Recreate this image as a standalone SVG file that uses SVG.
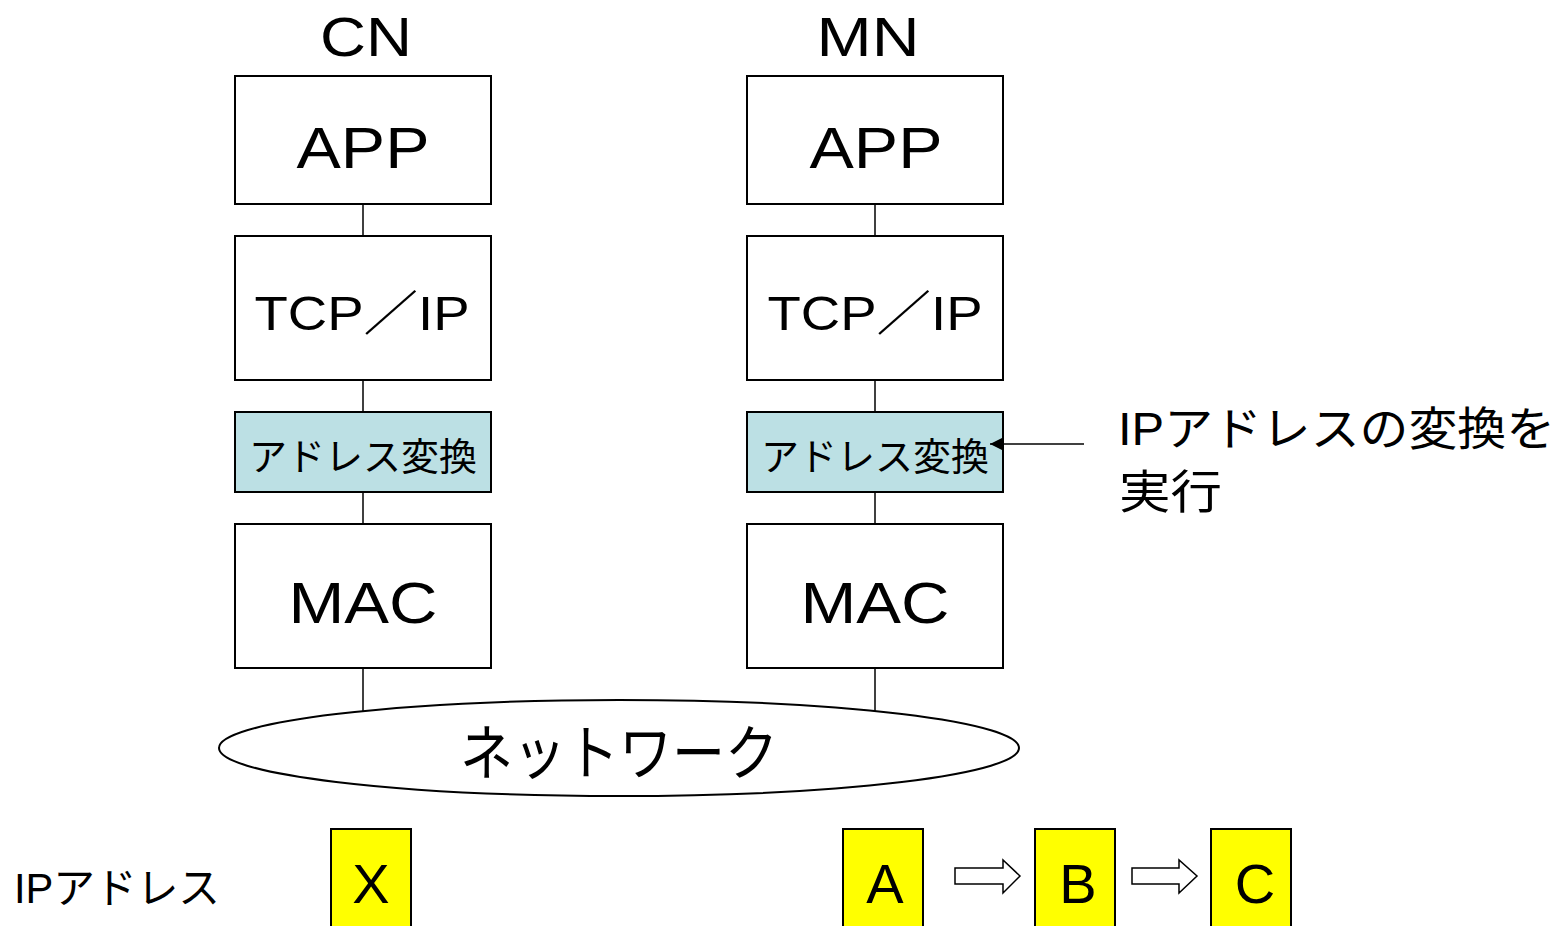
<svg xmlns="http://www.w3.org/2000/svg" width="1566" height="926" viewBox="0 0 1566 926">
<defs>
<style>
text{font-family:"Liberation Sans","Noto Sans CJK JP",sans-serif;fill:#000;text-anchor:middle}
.box{fill:#fff;stroke:#000;stroke-width:2}
.conv{fill:#BCE0E4;stroke:#000;stroke-width:2}
.ybox{fill:#FFFF00;stroke:#000;stroke-width:2}
.ln{stroke:#000;stroke-width:1.5;fill:none}
.big{font-size:58px}
.mid{font-size:48px}
.sm{font-size:38px}
.lbl{font-size:46px;text-anchor:start}
</style>
<marker id="ah" viewBox="0 0 10 10" refX="10" refY="5" markerWidth="12" markerHeight="12" markerUnits="userSpaceOnUse" orient="auto">
<path d="M0,0 L10,5 L0,10 z" fill="#000"/>
</marker>
</defs>
<rect width="1566" height="926" fill="#fff"/>
<g id="cn-label"><text x="366" y="56" font-size="56" textLength="92" lengthAdjust="spacingAndGlyphs">CN</text></g>
<g id="mn-label"><text x="868" y="56" font-size="56" textLength="103" lengthAdjust="spacingAndGlyphs">MN</text></g>
<g id="cn-app"><rect class="box" x="235" y="76" width="256" height="128"/><text class="big" x="363" y="168" textLength="133" lengthAdjust="spacingAndGlyphs">APP</text></g>
<g id="cn-tcp"><rect class="box" x="235" y="236" width="256" height="144"/><text class="mid" x="362" y="330" textLength="215" lengthAdjust="spacingAndGlyphs">TCP／IP</text></g>
<g id="cn-conv"><rect class="conv" x="235" y="412" width="256" height="80"/><text class="sm" x="363" y="470">アドレス変換</text></g>
<g id="cn-mac"><rect class="box" x="235" y="524" width="256" height="144"/><text class="big" x="363" y="623" textLength="149" lengthAdjust="spacingAndGlyphs">MAC</text></g>
<g id="mn-app"><rect class="box" x="747" y="76" width="256" height="128"/><text class="big" x="876" y="168" textLength="133" lengthAdjust="spacingAndGlyphs">APP</text></g>
<g id="mn-tcp"><rect class="box" x="747" y="236" width="256" height="144"/><text class="mid" x="875" y="330" textLength="215" lengthAdjust="spacingAndGlyphs">TCP／IP</text></g>
<g id="mn-conv"><rect class="conv" x="747" y="412" width="256" height="80"/><text class="sm" x="875" y="470">アドレス変換</text></g>
<g id="mn-mac"><rect class="box" x="747" y="524" width="256" height="144"/><text class="big" x="875" y="623" textLength="149" lengthAdjust="spacingAndGlyphs">MAC</text></g>
<g id="network"><ellipse cx="619" cy="748" rx="400" ry="48" fill="#fff" stroke="#000" stroke-width="2"/><text x="619" y="775" font-size="60" textLength="318" lengthAdjust="spacingAndGlyphs">ネットワーク</text></g>
<g id="connectors">
<line class="ln" x1="363" y1="204" x2="363" y2="236"/>
<line class="ln" x1="363" y1="380" x2="363" y2="412"/>
<line class="ln" x1="363" y1="492" x2="363" y2="524"/>
<line class="ln" x1="363" y1="668" x2="363" y2="711"/>
<line class="ln" x1="875" y1="204" x2="875" y2="236"/>
<line class="ln" x1="875" y1="380" x2="875" y2="412"/>
<line class="ln" x1="875" y1="492" x2="875" y2="524"/>
<line class="ln" x1="875" y1="668" x2="875" y2="711"/>
<line class="ln" x1="1084" y1="444" x2="990" y2="444" marker-end="url(#ah)"/>
</g>
<g id="note"><text class="lbl" x="1118" y="445" textLength="437" lengthAdjust="spacingAndGlyphs">IPアドレスの変換を</text><text class="lbl" x="1119" y="508" textLength="103" lengthAdjust="spacingAndGlyphs">実行</text></g>
<g id="ip-label"><text x="14" y="903" font-size="42" style="text-anchor:start" textLength="206" lengthAdjust="spacingAndGlyphs">IPアドレス</text></g>
<g id="addr-x"><rect class="ybox" x="331" y="829" width="80" height="100"/><text x="371" y="903" font-size="56">X</text></g>
<g id="addr-a"><rect class="ybox" x="843" y="829" width="80" height="100"/><text x="885" y="903" font-size="56">A</text></g>
<g id="addr-b"><rect class="ybox" x="1035" y="829" width="80" height="100"/><text x="1078" y="903" font-size="56">B</text></g>
<g id="addr-c"><rect class="ybox" x="1211" y="829" width="80" height="100"/><text x="1255" y="903" font-size="56">C</text></g>
<g id="block-arrows">
<path d="M955,868 L1003,868 L1003,860 L1020,876 L1003,893 L1003,884 L955,884 Z" fill="#fff" stroke="#000" stroke-width="1.5"/>
<path d="M1132,868 L1179,868 L1179,860 L1197,876 L1179,893 L1179,884 L1132,884 Z" fill="#fff" stroke="#000" stroke-width="1.5"/>
</g>
</svg>
